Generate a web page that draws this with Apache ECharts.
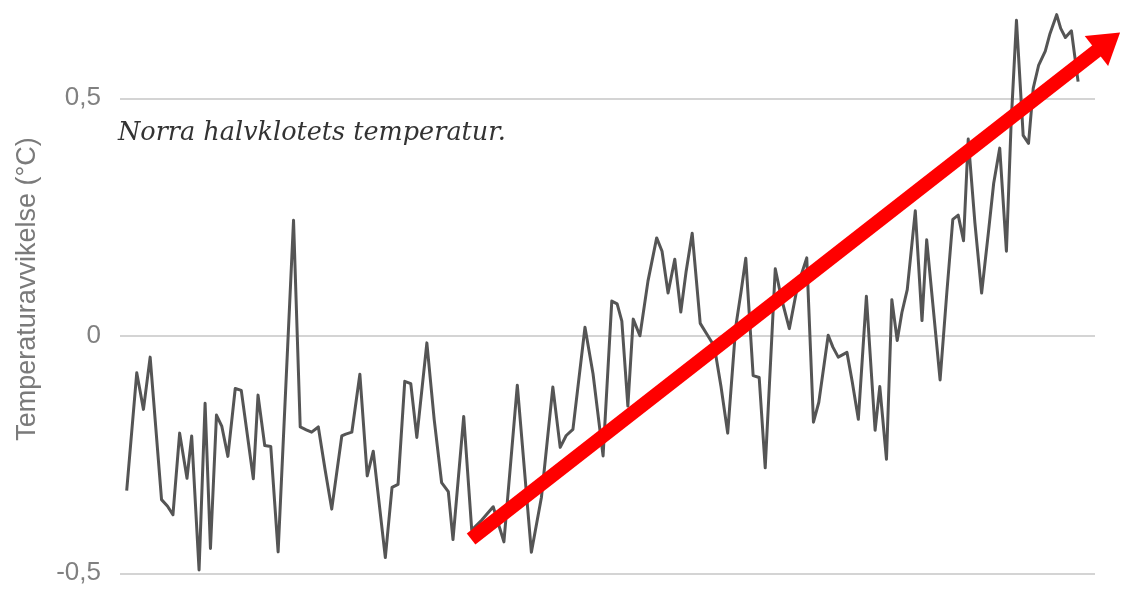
<!DOCTYPE html>
<html>
<head>
<meta charset="utf-8">
<script src="https://cdn.jsdelivr.net/npm/echarts@6/dist/echarts.min.js"></script>
<style>
html,body{margin:0;padding:0;background:#ffffff;}
#chart{width:1136px;height:609px;}
</style>
</head>
<body>
<div id="chart"></div>
<script>
// Time position of each traced vertex (years from start of the record)
const xs = [
  0,1.5,2.5,3.5,5.2,6.1,6.9,7.9,9.0,9.7,
  10.8,11.7,12.5,13.4,14.2,15.1,16.2,17.1,18.9,19.6,
  20.6,21.5,22.6,24.9,25.9,26.8,27.6,28.6,29.6,30.6,
  32.1,32.7,33.6,34.8,35.9,36.8,38.6,39.6,40.5,41.5,
  42.4,43.3,44.8,45.9,47.0,48.0,48.7,50.3,51.5,53.0,
  54.7,56.3,58.3,60.4,61.9,63.6,64.7,65.6,66.6,68.4,
  69.6,71.1,72.4,73.2,73.9,74.8,75.6,76.6,77.8,79.1,
  79.9,80.8,81.8,82.7,83.5,84.4,85.6,86.6,87.7,88.7,
  89.7,90.9,91.7,92.4,93.5,94.4,95.3,96.8,97.7,98.9,
  100.1,101.5,102.5,103.3,104.7,105.4,106.2,107.5,108.3,109.2,
  110.4,111.7,112.4,113.4,114.2,115.0,115.7,116.5,117.7,118.7,
  119.4,120.3,121.4,122.4,123.3,124.1,124.9,125.6,126.6,127.6,
  128.6,129.4,130.3,131.3,132.0,132.8,133.8,134.6,135.3,136.1,
  137.1,137.8,138.8,139.4,140.1,141.0,142.0
];
// Temperature anomaly (°C)
const temps = [
  -0.326,-0.078,-0.155,-0.045,-0.345,-0.359,-0.377,-0.205,-0.300,-0.211,
  -0.493,-0.142,-0.448,-0.167,-0.191,-0.254,-0.111,-0.115,-0.301,-0.125,
  -0.231,-0.233,-0.455,0.243,-0.192,-0.198,-0.203,-0.192,-0.281,-0.365,
  -0.211,-0.207,-0.203,-0.081,-0.295,-0.243,-0.467,-0.319,-0.313,-0.096,
  -0.101,-0.214,-0.015,-0.177,-0.309,-0.328,-0.429,-0.170,-0.409,-0.388,
  -0.360,-0.434,-0.104,-0.456,-0.340,-0.108,-0.235,-0.210,-0.197,0.018,
  -0.080,-0.253,0.073,0.067,0.031,-0.148,0.035,0.000,0.115,0.206,
  0.178,0.090,0.161,0.050,0.136,0.216,0.026,0.003,-0.022,-0.107,
  -0.205,0.019,0.093,0.163,-0.084,-0.088,-0.278,0.141,0.080,0.015,
  0.103,0.164,-0.182,-0.140,0.001,-0.024,-0.045,-0.035,-0.098,-0.176,
  0.083,-0.199,-0.107,-0.260,0.076,-0.010,0.049,0.097,0.263,0.032,
  0.202,0.069,-0.093,0.090,0.245,0.254,0.200,0.414,0.237,0.090,
  0.216,0.321,0.395,0.178,0.447,0.664,0.422,0.405,0.521,0.569,
  0.599,0.636,0.676,0.647,0.628,0.642,0.535
];
// Y-axis ticks
const yTicks = [-0.5, 0, 0.5];
// Red trend arrow: [time, anomaly] of tail and head
const arrowFrom = [51.4, -0.428];
const arrowTo = [146.5, 0.619];

const titleText = 'Norra halvklotets temperatur.';
const yName = 'Temperaturavvikelse (°C)';

const lineData = xs.map((x, i) => [x, temps[i]]);

const chart = echarts.init(document.getElementById('chart'), null, {renderer: 'canvas'});
chart.setOption({
  animation: false,
  backgroundColor: '#ffffff',
  title: {
    text: titleText,
    left: 118,
    top: 120,
    padding: 0,
    textStyle: {
      fontFamily: 'DejaVu Serif',
      fontStyle: 'italic',
      fontWeight: 'normal',
      fontSize: 25.5,
      color: '#333333'
    }
  },
  graphic: [{
    type: 'text',
    x: 28,
    y: 289,
    rotation: Math.PI / 2,
    style: {
      text: yName,
      x: 0, y: 0,
      textAlign: 'center',
      textVerticalAlign: 'middle',
      fontFamily: 'Liberation Sans, Arial, sans-serif',
      fontSize: 27,
      fill: '#7a7a7a'
    }
  }],
  grid: [
    {left: 120, right: 41, top: 98.25, bottom: 35.75, containLabel: false, outerBoundsMode: 'none'},
    {left: 120, right: 0, top: 3.25, bottom: 12, containLabel: false, outerBoundsMode: 'none'}
  ],
  xAxis: [
    {type: 'value', gridIndex: 0, min: -1, max: 144.5, show: false},
    {type: 'value', gridIndex: 1, min: -1, max: 150.64, show: false}
  ],
  yAxis: [
    {
      type: 'value', gridIndex: 0,
      min: yTicks[0], max: yTicks[yTicks.length - 1], interval: 0.5,
      axisLine: {show: false},
      axisTick: {show: false},
      axisLabel: {
        margin: 19,
        fontFamily: 'Liberation Sans, Arial, sans-serif',
        fontSize: 26,
        color: '#808080',
        formatter: v => String(v).replace('.', ',')
      },
      splitLine: {show: true, lineStyle: {color: '#d4d4d4', width: 2}}
    },
    {type: 'value', gridIndex: 1, min: -0.55, max: 0.7, show: false, splitLine: {show: false}}
  ],
  series: [
    {
      type: 'line',
      xAxisIndex: 1, yAxisIndex: 1,
      data: lineData,
      showSymbol: false,
      symbol: 'none',
      clip: false,
      lineStyle: {color: '#555555', width: 3, join: 'round'},
      emphasis: {disabled: true},
      markLine: {
        silent: true,
        symbol: ['none', 'triangle'],
        symbolSize: [38, 30],
        label: {show: false},
        emphasis: {disabled: true},
        lineStyle: {color: '#ff0000', width: 14, type: 'solid', opacity: 1},
        itemStyle: {color: '#ff0000'},
        data: [[{coord: arrowFrom}, {coord: arrowTo}]]
      }
    }
  ]
});
</script>
</body>
</html>
